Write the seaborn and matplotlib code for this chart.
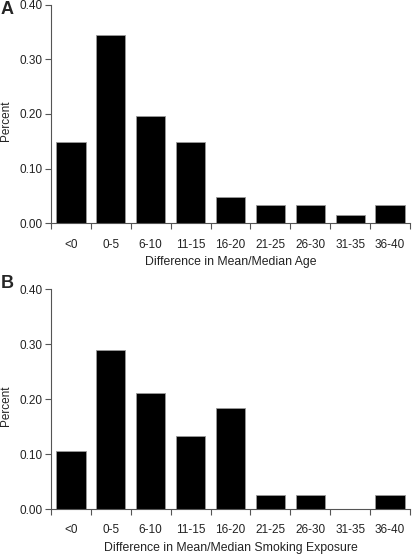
import matplotlib
matplotlib.use("Agg")
import matplotlib.pyplot as plt
import seaborn as sns
import pandas as pd
import numpy as np

categories = ["<0", "0-5", "6-10", "11-15", "16-20", "21-25", "26-30", "31-35", "36-40"]
age_values = [0.148, 0.344, 0.197, 0.148, 0.049, 0.033, 0.033, 0.016, 0.033]
smoking_values = [0.105, 0.289, 0.211, 0.132, 0.184, 0.026, 0.026, 0.0, 0.026]
yticks = [0.0, 0.1, 0.2, 0.3, 0.4]
ytick_labels = ["0.00", "0.10", "0.20", "0.30", "0.40"]

sns.set_theme(style="white")
plt.rcParams["font.family"] = ["Liberation Sans", "DejaVu Sans"]

W, H = 412, 555
fig = plt.figure(figsize=(W / 100, H / 100), dpi=100)

spine_col = "#555555"

def panel(rect, values, xlabel, letter, letter_y):
    ax = fig.add_axes(rect)
    df = pd.DataFrame({"cat": categories, "val": values})
    sns.barplot(data=df, x="cat", y="val", order=categories, color="black",
                width=0.73, edgecolor="#9a9a9a", linewidth=0.6, saturation=1, ax=ax)
    ax.set_xlim(-0.5, 8.5)
    ax.set_ylim(0, 0.4)
    ax.set_yticks(yticks)
    ax.set_yticklabels(ytick_labels)
    ax.set_xticks(np.arange(9))
    ax.set_xticklabels(categories)
    ax.set_xticks(np.arange(-0.5, 9.0, 1.0), minor=True)
    ax.tick_params(axis="x", which="major", length=0, pad=11, labelsize=8.5, colors="#222222")
    ax.tick_params(axis="x", which="minor", length=4, width=0.8, color=spine_col, direction="out", bottom=True)
    ax.tick_params(axis="y", length=4, width=0.8, color=spine_col, direction="out", left=True,
                   labelsize=8.5, labelcolor="#222222", pad=2)
    for s in ["top", "right"]:
        ax.spines[s].set_visible(False)
    for s in ["left", "bottom"]:
        ax.spines[s].set_color(spine_col)
        ax.spines[s].set_linewidth(0.8)
    ax.set_xlabel(xlabel, fontsize=8.8, color="#222222", labelpad=4)
    ax.set_ylabel("Percent", fontsize=8.5, color="#222222")
    ax.yaxis.set_label_coords((12 - 51) / 359, 0.47)
    fig.text(1 / W, 1 - letter_y / H, letter, fontsize=13, fontweight="bold", va="top", ha="left")
    return ax

axA = panel([51 / W, 1 - 223.3 / H, 359 / W, 218.6 / H], age_values,
            "Difference in Mean/Median Age", "A", 1.5)
axB = panel([51 / W, 1 - 509 / H, 359 / W, 219.7 / H], smoking_values,
            "Difference in Mean/Median Smoking Exposure", "B", 275)

fig.savefig("out.png", dpi=100)
